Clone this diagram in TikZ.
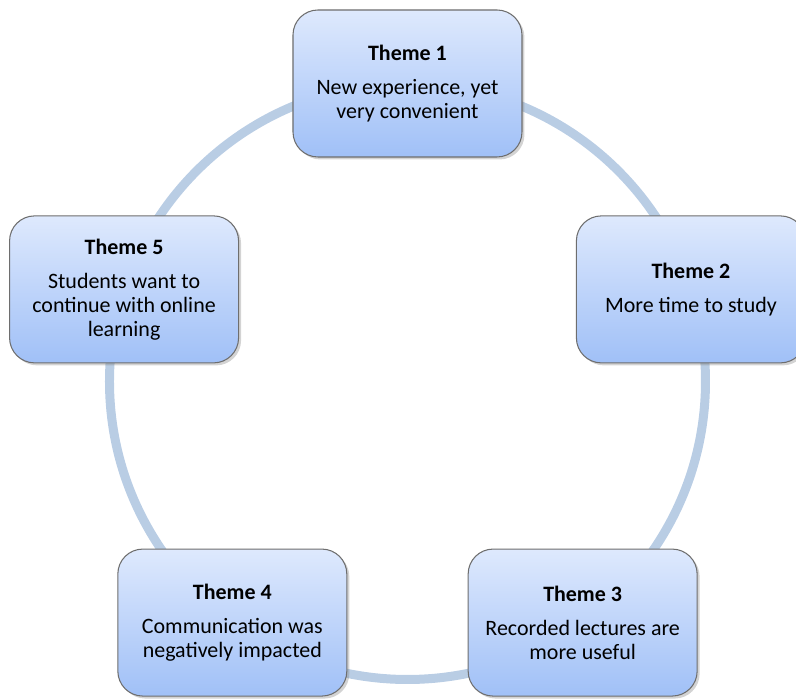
\documentclass[tikz,border=0pt]{standalone}
\usepackage{fontspec}
\setmainfont{Carlito}
\usepackage{xcolor}
\usepackage{tikz}
\usetikzlibrary{shadows,positioning,calc}

\definecolor{ringblue}{RGB}{185,205,228}
\definecolor{boxtop}{RGB}{222,233,253}
\definecolor{boxbottom}{RGB}{160,192,247}
\definecolor{boxedge}{RGB}{110,110,110}

\tikzset{
  themebox/.style={draw=boxedge, line width=0.6pt, rounded corners=0.5cm,
    top color=boxtop, bottom color=boxbottom,
    minimum width=4.58cm, minimum height=2.94cm, align=center,
    font=\fontsize{12.5}{13.7}\selectfont,
    drop shadow={opacity=0.35, shadow xshift=0.05cm, shadow yshift=-0.05cm}},
  ring/.style={draw=ringblue, line width=0.18cm}
}

\begin{document}
\begin{tikzpicture}
    \useasboundingbox (-8.15,7.63) rectangle (7.77,-6.35);
    % Ring behind the themes
    \coordinate (c) at (0,0);
    \draw[ring] (c) circle (5.96cm);

    % The five themes
    \node[themebox] (t1) at (90:5.96)
      {\textbf{Theme 1}\\[0.2cm] New experience, yet\\ very convenient};
    \node[themebox] (t2) at (18:5.96)
      {\textbf{Theme 2}\\[0.2cm] More time to study};
    \node[themebox] (t3) at (-54:5.96)
      {\textbf{Theme 3}\\[0.2cm] Recorded lectures are\\ more useful};
    \node[themebox] (t4) at (-126:5.96)
      {\textbf{Theme 4}\\[0.2cm] Communication was\\ negatively impacted};
    \node[themebox] (t5) at (162:5.96)
      {\textbf{Theme 5}\\[0.2cm] Students want to\\ continue with online\\ learning};
\end{tikzpicture}
\end{document}
